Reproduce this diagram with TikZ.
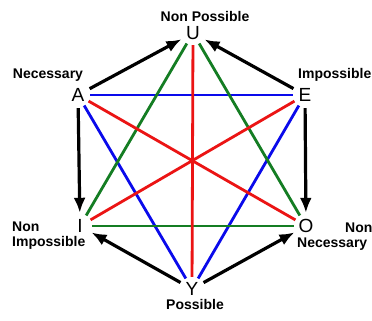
\documentclass[tikz,border=0pt]{standalone}
\usepackage{fontspec}
\setmainfont{Liberation Sans}
\usepackage{tikz}
\usetikzlibrary{arrows.meta,positioning}

\definecolor{oppblue}{RGB}{10,10,235}
\definecolor{oppred}{RGB}{235,20,20}
\definecolor{oppgreen}{RGB}{20,125,35}

\begin{document}
\begin{tikzpicture}[x=1pt,y=-1pt,>={Latex[length=15pt,width=12pt]},
  imply/.style={->,line width=3.2pt,black,shorten >=1pt,shorten <=1pt},
  contra/.style={line width=2.8pt,oppred},
  contrary/.style={line width=2.8pt,oppblue},
  subcon/.style={line width=2.8pt,oppgreen},
  letter/.style={circle,minimum size=24pt,inner sep=0pt,font=\fontsize{19}{20}\selectfont},
  lab/.style={font=\fontsize{14}{15}\selectfont\bfseries,inner sep=0pt}]
\useasboundingbox (0,0) rectangle (372,321);
\fill[white] (0,0) rectangle (372,321);
% the six modal corners
\node[letter] (U) at (193,33) {U};
\node[letter] (A) at (78,95) {A};
\node[letter] (E) at (305,95) {E};
\node[letter] (I) at (80,226) {I};
\node[letter] (O) at (306,226) {O};
\node[letter] (Y) at (192,289) {Y};
% labels
\node[lab] (lU) at (205,16) {Non Possible};
\node[lab] (lA) at (48,75) {Necessary};
\node[lab,anchor=west] (lE) at (298,75) {Impossible};
\node[lab,anchor=west,align=left] (lI) at (12,236) {Non\\Impossible};
\node[lab,anchor=west] (lO1) at (345,228) {Non};
\node[lab,anchor=west] (lO2) at (297,244) {Necessary};
\node[lab] (lY) at (195,304) {Possible};
% coloured oppositions
\draw[contrary] (A)--(E);
\draw[contrary] (A)--(Y);
\draw[contrary] (E)--(Y);
\draw[subcon] (I)--(O);
\draw[subcon] (U)--(I);
\draw[subcon] (U)--(O);
\draw[contra] (U)--(Y);
\draw[contra] (A)--(O);
\draw[contra] (E)--(I);
% implications
\draw[imply] (A)--(U);
\draw[imply] (E)--(U);
\draw[imply] (A)--(I);
\draw[imply] (E)--(O);
\draw[imply] (Y)--(I);
\draw[imply] (Y)--(O);
\end{tikzpicture}
\end{document}
